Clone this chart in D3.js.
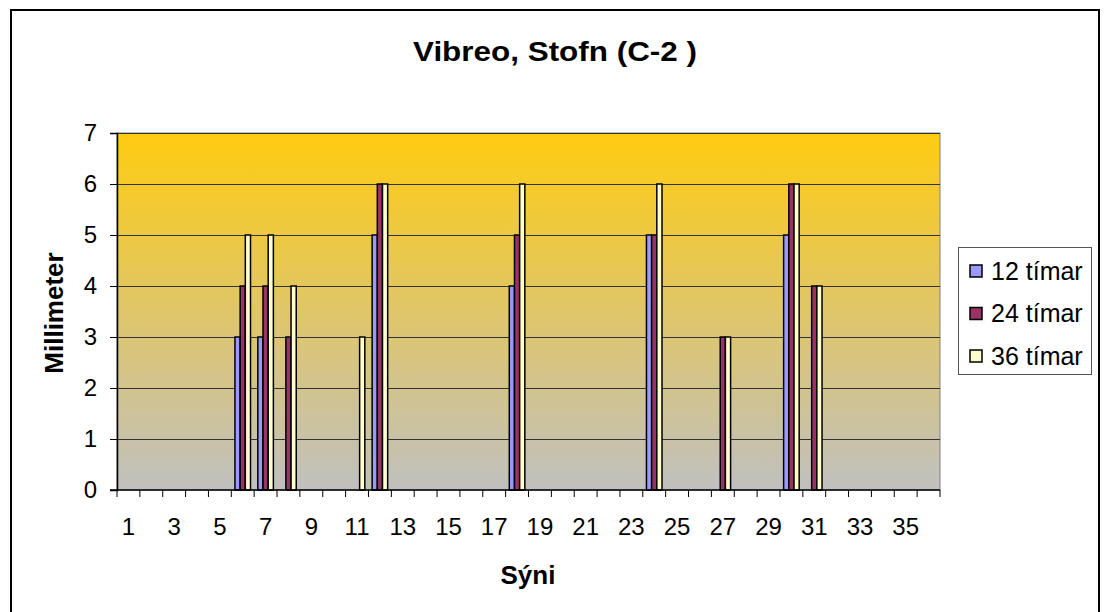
<!DOCTYPE html>
<html>
<head>
<meta charset="utf-8">
<script src="https://cdn.jsdelivr.net/npm/d3@7.9.0/dist/d3.min.js"></script>
<style>
  body { margin: 0; background: #fff; }
  text { font-family: Arial, "Liberation Sans", sans-serif; fill: #000; }
</style>
</head>
<body>
<svg id="chart" width="1105" height="612"></svg>
<script>
// sample numbers along the x axis
const samples = [1, 2, 3, 4, 5, 6, 7, 8, 9, 10, 11, 12, 13, 14, 15, 16, 17, 18,
  19, 20, 21, 22, 23, 24, 25, 26, 27, 28, 29, 30, 31, 32, 33, 34, 35, 36];

const seriesNames = ["12 tímar", "24 tímar", "36 tímar"];
const seriesColors = ["#9999ff", "#993366", "#ffffcc"];

const h12 = [0, 0, 0, 0, 0, 3, 3, 0, 0, 0, 0, 5, 0, 0, 0, 0, 0, 4,
  0, 0, 0, 0, 0, 5, 0, 0, 0, 0, 0, 5, 0, 0, 0, 0, 0, 0];
const h24 = [0, 0, 0, 0, 0, 4, 4, 3, 0, 0, 0, 6, 0, 0, 0, 0, 0, 5,
  0, 0, 0, 0, 0, 5, 0, 0, 3, 0, 0, 6, 4, 0, 0, 0, 0, 0];
const h36 = [0, 0, 0, 0, 0, 5, 5, 4, 0, 0, 3, 6, 0, 0, 0, 0, 0, 6,
  0, 0, 0, 0, 0, 6, 0, 0, 3, 0, 0, 6, 4, 0, 0, 0, 0, 0];

const yTicks = [0, 1, 2, 3, 4, 5, 6, 7];

const series = [h12, h24, h36];

const svg = d3.select("#chart");

const plot = { left: 117, right: 940, top: 133, bottom: 490 };

const x = d3.scaleBand()
  .domain(samples)
  .range([plot.left, plot.right])
  .padding(0);

const xInner = d3.scaleBand()
  .domain(d3.range(series.length))
  .range([x.bandwidth() * 0.16, x.bandwidth() * 0.84]);

const y = d3.scaleLinear().domain([0, 7]).range([plot.bottom, plot.top]);

// outer chart border
svg.append("rect")
  .attr("x", 11).attr("y", 10)
  .attr("width", 1088).attr("height", 640)
  .attr("fill", "#fff")
  .attr("stroke", "#000")
  .attr("stroke-width", 2);

// plot background gradient
const defs = svg.append("defs");
const grad = defs.append("linearGradient")
  .attr("id", "bg")
  .attr("x1", 0).attr("y1", 0).attr("x2", 0).attr("y2", 1);
grad.append("stop").attr("offset", "0%").attr("stop-color", "#ffcc11");
grad.append("stop").attr("offset", "100%").attr("stop-color", "#c0c0c0");

svg.append("rect")
  .attr("x", plot.left).attr("y", plot.top)
  .attr("width", plot.right - plot.left)
  .attr("height", plot.bottom - plot.top)
  .attr("fill", "url(#bg)")
  .attr("stroke", "#808080")
  .attr("stroke-width", 1);

// gridlines
svg.append("g")
  .selectAll("line")
  .data(yTicks.slice(1))
  .join("line")
  .attr("x1", plot.left).attr("x2", plot.right)
  .attr("y1", d => y(d) + 0.5).attr("y2", d => y(d) + 0.5)
  .attr("stroke", "#333")
  .attr("stroke-width", 1);

// bars
const bars = [];
series.forEach((vals, s) => {
  vals.forEach((v, i) => {
    if (v > 0) bars.push({ s, cat: samples[i], v });
  });
});

svg.append("g")
  .selectAll("rect")
  .data(bars)
  .join("rect")
  .attr("x", d => x(d.cat) + xInner(d.s))
  .attr("y", d => y(d.v))
  .attr("width", xInner.bandwidth())
  .attr("height", d => y(0) - y(d.v))
  .attr("fill", d => seriesColors[d.s])
  .attr("stroke", "#000")
  .attr("stroke-width", 1.5);

// y axis
const yAxis = svg.append("g")
  .attr("transform", `translate(${plot.left},0)`)
  .call(d3.axisLeft(y).tickValues(yTicks).tickSize(7).tickPadding(13).tickFormat(d3.format("d")));
yAxis.select(".domain").attr("stroke", "#000").attr("stroke-width", 1.5);
yAxis.selectAll(".tick line").attr("stroke", "#000");
yAxis.selectAll(".tick text")
  .style("font-size", "24px")
  .style("font-family", "Arial, 'Liberation Sans', sans-serif");

// x axis: ticks on category boundaries, labels on odd categories
const xg = svg.append("g").attr("transform", `translate(0,${plot.bottom})`);
xg.append("line")
  .attr("x1", plot.left - 7).attr("x2", plot.right)
  .attr("y1", 0).attr("y2", 0)
  .attr("stroke", "#000").attr("stroke-width", 1.5);
xg.selectAll(".bt")
  .data(samples.concat([null]))
  .join("line")
  .attr("class", "bt")
  .attr("x1", (d, i) => (i < samples.length ? x(d) : plot.right))
  .attr("x2", (d, i) => (i < samples.length ? x(d) : plot.right))
  .attr("y1", 0).attr("y2", 7)
  .attr("stroke", "#000");
xg.selectAll(".lbl")
  .data(samples.filter(d => d % 2 === 1))
  .join("text")
  .attr("class", "lbl")
  .attr("x", d => x(d) + x.bandwidth() / 2)
  .attr("y", 45)
  .attr("text-anchor", "middle")
  .style("font-size", "24px")
  .text(d => d);

// titles
svg.append("text")
  .attr("x", 555).attr("y", 61)
  .attr("text-anchor", "middle")
  .attr("textLength", 284)
  .attr("lengthAdjust", "spacingAndGlyphs")
  .style("font-size", "28px").style("font-weight", "bold")
  .text("Vibreo, Stofn (C-2 )");

svg.append("text")
  .attr("x", 528).attr("y", 584)
  .attr("text-anchor", "middle")
  .style("font-size", "26px").style("font-weight", "bold")
  .text("Sýni");

svg.append("text")
  .attr("transform", "translate(63,313) rotate(-90)")
  .attr("text-anchor", "middle")
  .style("font-size", "26px").style("font-weight", "bold")
  .text("Millimeter");

// legend
const legend = svg.append("g");
legend.append("rect")
  .attr("x", 958.5).attr("y", 247.5)
  .attr("width", 133).attr("height", 127)
  .attr("fill", "#fff")
  .attr("stroke", "#555");

const rows = legend.selectAll(".row")
  .data(seriesNames)
  .join("g")
  .attr("class", "row")
  .attr("transform", (d, i) => `translate(970,${271 + i * 42.5})`);
rows.append("rect")
  .attr("x", 0).attr("y", -6)
  .attr("width", 12).attr("height", 12)
  .attr("fill", (d, i) => seriesColors[i])
  .attr("stroke", "#000")
  .attr("stroke-width", 1.5);
rows.append("text")
  .attr("x", 21).attr("y", 8.5)
  .style("font-size", "25px")
  .text(d => d);
</script>
</body>
</html>
